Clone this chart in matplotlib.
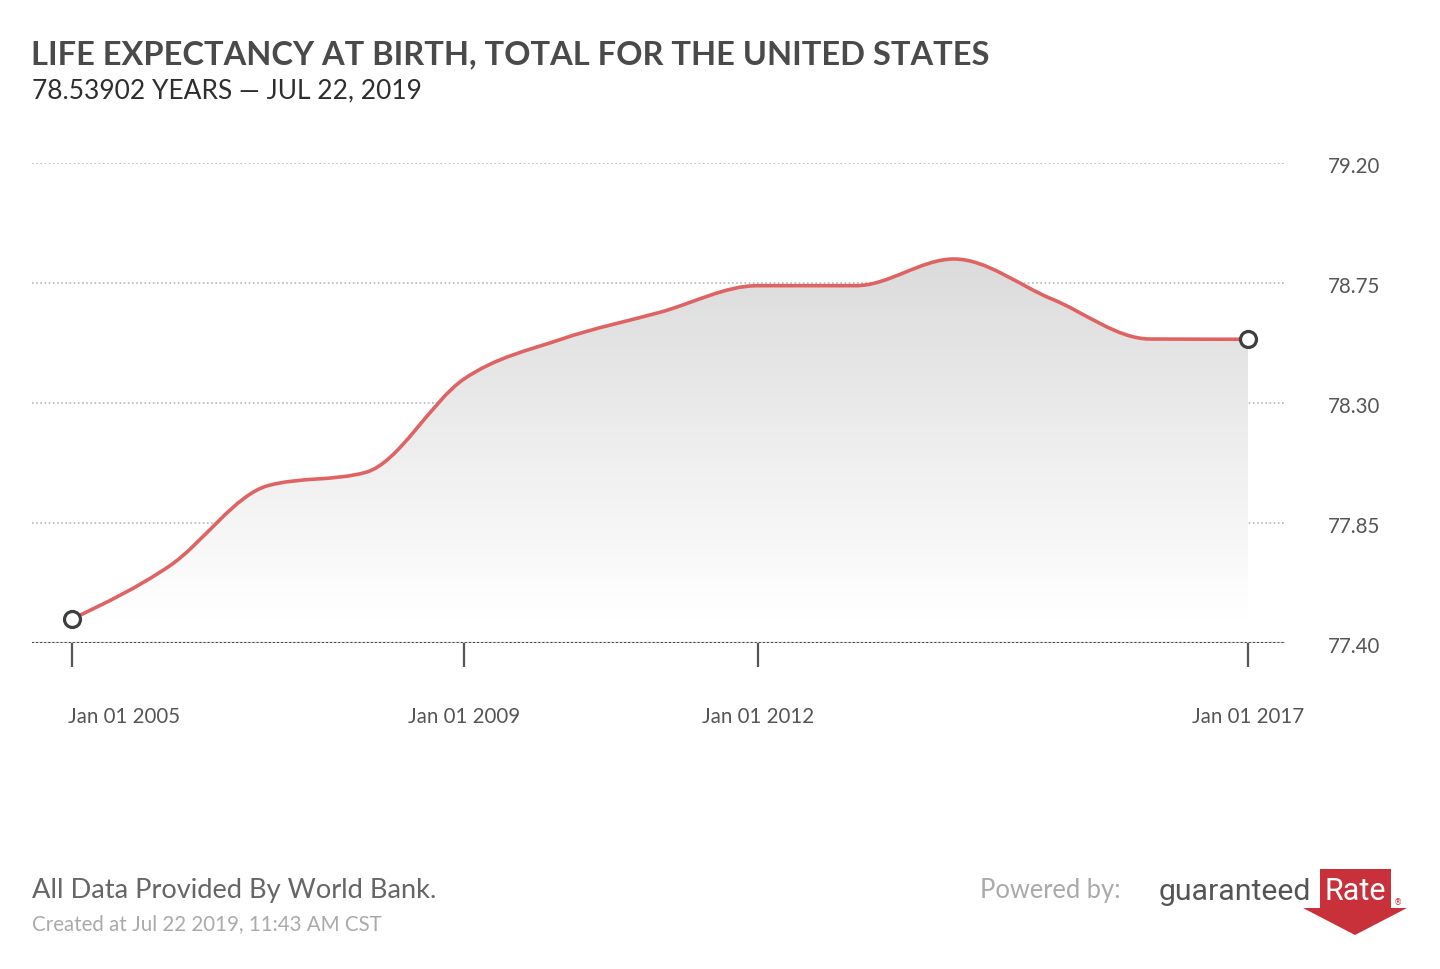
import numpy as np
import matplotlib
matplotlib.use("Agg")
import matplotlib.pyplot as plt
import matplotlib.dates as mdates
from matplotlib.path import Path
from matplotlib.patches import PathPatch, Rectangle, Polygon
from datetime import datetime

# ---------------- data ----------------
years = [2005, 2006, 2007, 2008, 2009, 2010, 2011, 2012, 2013, 2014, 2015, 2016, 2017]
values = [77.49, 77.69, 77.99, 78.04, 78.39, 78.54, 78.64, 78.74, 78.74, 78.84, 78.69, 78.54, 78.53902]
y_ticks = [77.40, 77.85, 78.30, 78.75, 79.20]
y_tick_labels = ["77.40", "77.85", "78.30", "78.75", "79.20"]
x_tick_years = [2005, 2009, 2012, 2017]
x_tick_labels = ["Jan 01 2005", "Jan 01 2009", "Jan 01 2012", "Jan 01 2017"]
title = "LIFE EXPECTANCY AT BIRTH, TOTAL FOR THE UNITED STATES"
subtitle = "78.53902 YEARS \u2014 JUL 22, 2019"

W, H = 1440, 970
FONT = "Lato"

def fx(px):
    return px / W

def fy(py):
    return 1 - py / H

fig = plt.figure(figsize=(W / 100, H / 100), dpi=100)
fig.patch.set_facecolor("white")

# axes placement in pixels
ax_l, ax_r, ax_t, ax_b = 32, 1285, 164, 644
ax = fig.add_axes([fx(ax_l), fy(ax_b), (ax_r - ax_l) / W, (ax_b - ax_t) / H])
ax.set_facecolor("none")

xd = np.array([mdates.date2num(datetime(y, 1, 1)) for y in years], dtype=float)
yv = np.array(values, dtype=float)

# x-limits: first point at px 72, last at px 1248
p0, p1 = 72, 1248
scale = (xd[-1] - xd[0]) / (p1 - p0)
ax.set_xlim(xd[0] - (p0 - ax_l) * scale, xd[-1] + (ax_r - p1) * scale)
ax.set_ylim(77.40, 79.20)

# ---------- monotone-x cubic (d3 curveMonotoneX) as bezier path ----------
def sgn(v):
    return float(np.sign(v))

n = len(xd)
h = np.diff(xd)
s = np.diff(yv) / h
t = np.zeros(n)
for i in range(1, n - 1):
    h0, h1 = h[i - 1], h[i]
    s0, s1 = s[i - 1], s[i]
    p = (s0 * h1 + s1 * h0) / (h0 + h1)
    t[i] = (sgn(s0) + sgn(s1)) * min(abs(s0), abs(s1), 0.5 * abs(p))
t[0] = (3 * s[0] - t[1]) / 2
t[-1] = (3 * s[-1] - t[-2]) / 2

verts = [(xd[0], yv[0])]
codes = [Path.MOVETO]
for i in range(n - 1):
    dx = (xd[i + 1] - xd[i]) / 3
    verts += [(xd[i] + dx, yv[i] + dx * t[i]),
              (xd[i + 1] - dx, yv[i + 1] - dx * t[i + 1]),
              (xd[i + 1], yv[i + 1])]
    codes += [Path.CURVE4] * 3
line_path = Path(verts, codes)

base = yv.min()
area_verts = [(xd[0], base)] + verts + [(xd[-1], base), (xd[0], base)]
area_codes = [Path.MOVETO] + [Path.LINETO] + codes[1:] + [Path.LINETO, Path.CLOSEPOLY]
area_path = Path(area_verts, area_codes)

# gradient fill
area_patch = PathPatch(area_path, facecolor="none", edgecolor="none")
ax.add_patch(area_patch)
grad = np.linspace(0, 1, 256).reshape(-1, 1)
top_c = np.array([0.86, 0.86, 0.86])
bot_c = np.array([1.0, 1.0, 1.0])
img = top_c[None, None, :] * (1 - grad[:, :, None]) + bot_c[None, None, :] * grad[:, :, None]
im = ax.imshow(img, extent=(xd[0], xd[-1], base, yv.max()), origin="upper",
               aspect="auto", zorder=1, interpolation="bilinear")
im.set_clip_path(area_patch)

# gridlines
for yt in y_ticks[1:]:
    ax.axhline(yt, color="#b8b8b8", lw=1.2, ls=(0, (1, 1.5)), zorder=0.5)
ax.axhline(y_ticks[0], color="#cfcfcf", lw=2.4, zorder=2)
ax.axhline(y_ticks[0], color="#3a3a3a", lw=1.4, ls=(0, (1, 1.1)), zorder=2.1)

# curve
ax.add_patch(PathPatch(line_path, facecolor="none", edgecolor="#df6363", lw=2.6,
                       zorder=3, capstyle="round", joinstyle="round"))

# endpoint markers
ax.plot([xd[0], xd[-1]], [yv[0], yv[-1]], "o", ms=11.5, mfc="white", mec="#3f3f3f",
        mew=2.3, zorder=4)

# spines / ticks
for sp in ax.spines.values():
    sp.set_visible(False)
ax.set_yticks([])
xt = [mdates.date2num(datetime(y, 1, 1)) for y in x_tick_years]
ax.set_xticks(xt)
ax.set_xticklabels([])
ax.tick_params(axis="x", direction="out", length=17, width=1.6, color="#555555", pad=0)

# y tick labels
for yt, lab in zip(y_ticks, y_tick_labels):
    ypx = ax_b - (yt - 77.40) / 1.8 * (ax_b - ax_t)
    fig.text(fx(1328), fy(ypx + 3), lab, ha="left", va="center", fontsize=14.8,
             color="#555555", family=FONT)

# x tick labels
for i, (xv, lab) in enumerate(zip(xt, x_tick_labels)):
    px = p0 + (xv - xd[0]) / scale
    if i == 0:
        fig.text(fx(px - 4), fy(717), lab, ha="left", va="center", fontsize=14.8,
                 color="#555555", family=FONT)
    else:
        fig.text(fx(px), fy(717), lab, ha="center", va="center", fontsize=14.8,
                 color="#555555", family=FONT)

# titles
fig.text(fx(31), fy(55), title, ha="left", va="center", fontsize=23.5, fontweight="bold",
         color="#4a4a4a", family=FONT)
fig.text(fx(32), fy(91), subtitle, ha="left", va="center", fontsize=19,
         color="#2e2e2e", family=FONT)

# footer
fig.text(fx(32), fy(891), "All Data Provided By World Bank.", ha="left", va="center",
         fontsize=19.6, color="#666666", family=FONT)
fig.text(fx(32), fy(924), "Created at Jul 22 2019, 11:43 AM CST", ha="left", va="center",
         fontsize=14.8, color="#aaaaaa", family=FONT)
fig.text(fx(980), fy(891), "Powered by:", ha="left", va="center",
         fontsize=18.4, color="#aaaaaa", family=FONT)

# logo
fig.patches.append(Rectangle((fx(1320), fy(910)), (1391 - 1320) / W, 40 / H,
                             transform=fig.transFigure, facecolor="#c8313a",
                             edgecolor="none"))
fig.patches.append(Polygon([(fx(1303), fy(909)), (fx(1407), fy(909)), (fx(1355), fy(936))],
                           closed=True, transform=fig.transFigure,
                           facecolor="#c8313a", edgecolor="none"))
fig.text(fx(1159), fy(900), "guaranteed", ha="left", va="baseline", fontsize=21.8,
         color="#555555", family="Roboto", fontstretch="condensed")
fig.text(fx(1355), fy(900), "Rate", ha="center", va="baseline", fontsize=22,
         color="white", family="Roboto")
fig.text(fx(1398), fy(903), "\u00ae", ha="center", va="center", fontsize=6,
         color="#c8313a", family="DejaVu Sans")

fig.savefig("out.png", dpi=100, facecolor="white")
